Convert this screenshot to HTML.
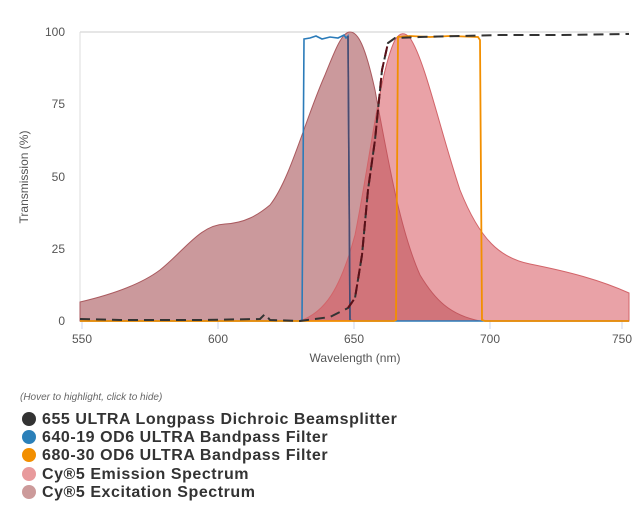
<!DOCTYPE html>
<html><head><meta charset="utf-8"><style>
body{margin:0;background:#fff;width:640px;height:523px;overflow:hidden;font-family:"Liberation Sans",sans-serif}
.lg{position:absolute;left:22px;font-weight:bold;font-size:16px;color:#333;letter-spacing:0.55px;line-height:18px}
.lg i{display:inline-block;width:14px;height:14px;border-radius:50%;vertical-align:-2px;margin-right:6px}
</style></head><body>
<svg width="640" height="380" style="position:absolute;left:0;top:0">
<line x1="80" y1="32" x2="629" y2="32" stroke="#ccc"/>
<line x1="80" y1="32" x2="80" y2="321" stroke="#ddd"/>
<g stroke="#ccd6eb"><line x1="82" y1="321" x2="82" y2="329"/><line x1="218" y1="321" x2="218" y2="329"/><line x1="354" y1="321" x2="354" y2="329"/><line x1="490" y1="321" x2="490" y2="329"/><line x1="622" y1="321" x2="622" y2="329"/></g>
<g font-size="12" fill="#555" text-anchor="end"><text x="65" y="36">100</text><text x="65" y="108">75</text><text x="65" y="181">50</text><text x="65" y="253">25</text><text x="65" y="325">0</text></g>
<g font-size="12" fill="#555" text-anchor="middle"><text x="82" y="343">550</text><text x="218" y="343">600</text><text x="354" y="343">650</text><text x="490" y="343">700</text><text x="622" y="343">750</text><text x="355" y="362">Wavelength (nm)</text></g>
<text transform="translate(28,177) rotate(-90)" font-size="12" fill="#555" text-anchor="middle">Transmission (%)</text>
<path d="M80,302 C110,295 140,285 160,270 C185,250 200,225 225,224 C245,223 258,215 270,205 C290,180 305,120 325,75 C335,50 342,32 350,32 C358,32 365,45 375,90 C388,160 400,230 420,275 C435,300 450,315 480,321 L80,321Z" fill="rgb(160,70,75)" fill-opacity="0.55" stroke="rgb(170,90,95)" stroke-width="1"/>
<path d="M300,321 C325,312 340,290 355,235 C370,160 380,70 395,40 C400,32 405,32 410,38 C425,60 440,130 460,190 C480,240 500,258 530,264 C570,272 600,280 629,293 L629,321Z" fill="rgb(215,85,95)" fill-opacity="0.55" stroke="rgb(210,100,105)" stroke-width="1"/>
<path d="M80,321 L300,321 L302,320 L304,39 L310,38 L316,36 L322,39 L330,37 L338,38 L344,35 L346,38 L348,36 L350,320 L353,321 L629,321" fill="none" stroke="#2b7bb9" stroke-width="1.6"/>
<path d="M350,320 L348,36" fill="none" stroke="#4a4a6e" stroke-width="1.6"/>
<path d="M80,321 L394,321 L396,320 L398,37 L410,36 L430,37 L450,36 L478,37 L480,40 L482,320 L485,321 L629,321" fill="none" stroke="#f28f00" stroke-width="1.8"/>
<path d="M80,319 L120,320 L200,320 L260,319 L265,314 L270,320 L300,321 L330,317 L348,308 L355,298 L362,255 L368,190 L375,140 L382,70 L388,43 L395,38 L420,37 L460,36 L500,35 L560,35 L629,34" fill="none" stroke="#333" stroke-width="2" stroke-dasharray="10,6"/>
<path d="M348,308 L355,298 L362,255 L368,190 L375,140 L382,70 L388,43" fill="none" stroke="#5a1018" stroke-width="2" stroke-dasharray="10,6"/>
</svg>
<div style="position:absolute;left:20px;top:392px;font-size:10px;font-style:italic;color:#666">(Hover to highlight, click to hide)</div>
<div class="lg" style="top:411px"><i style="background:#333"></i>655 ULTRA Longpass Dichroic Beamsplitter</div>
<div class="lg" style="top:429px"><i style="background:#2b80b9"></i>640-19 OD6 ULTRA Bandpass Filter</div>
<div class="lg" style="top:447px"><i style="background:#f28f00"></i>680-30 OD6 ULTRA Bandpass Filter</div>
<div class="lg" style="top:466px"><i style="background:#e89a9c"></i>Cy®5 Emission Spectrum</div>
<div class="lg" style="top:484px"><i style="background:#cc9a9a"></i>Cy®5 Excitation Spectrum</div>
</body></html>
